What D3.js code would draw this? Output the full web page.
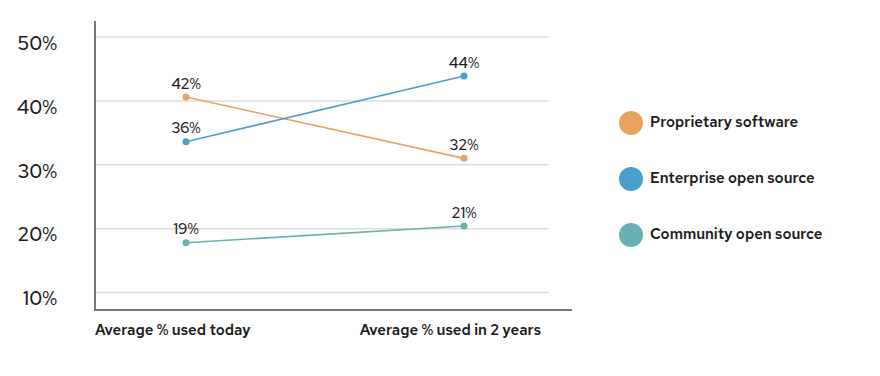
<!DOCTYPE html>
<html>
<head>
<meta charset="utf-8">
<script src="https://cdn.jsdelivr.net/npm/d3@7"></script>
<style>
  body { margin: 0; background: #fff; }
  text { font-family: "Red Hat Text", "Noto Sans", sans-serif; fill: #1c1c1c; }
</style>
</head>
<body>
<div id="chart"></div>
<script>
const periods = ['Average % used today', 'Average % used in 2 years'];
const seriesNames = ['Proprietary software', 'Enterprise open source', 'Community open source'];
const seriesColors = ['#eba15f', '#4a9fca', '#67b2b0'];
// where the dots actually sit in the picture, and what their labels print
const proprietaryPlot = [40.6, 31.0];
const enterprisePlot = [33.6, 43.9];
const communityPlot = [17.8, 20.4];
const proprietaryLabels = ['42%', '32%'];
const enterpriseLabels = ['36%', '44%'];
const communityLabels = ['19%', '21%'];
const yTicks = [10, 20, 30, 40, 50];

const WIDTH = 880, HEIGHT = 376;
const plotLeft = 95, plotBottom = 310, gridRight = 549, axisRight = 572;

const series = seriesNames.map((name, i) => ({
    name: name,
    color: seriesColors[i],
    plot: [proprietaryPlot, enterprisePlot, communityPlot][i],
    labels: [proprietaryLabels, enterpriseLabels, communityLabels][i]
}));

const svg = d3.select('#chart').append('svg')
    .attr('width', WIDTH)
    .attr('height', HEIGHT);

const x = d3.scalePoint()
    .domain(periods)
    .range([186, 464]);

const y = d3.scaleLinear()
    .domain([10, 50])
    .range([292.5, 37]);

// gridlines
svg.append('g')
    .selectAll('line')
    .data(yTicks)
    .join('line')
    .attr('x1', plotLeft)
    .attr('x2', gridRight)
    .attr('y1', d => y(d))
    .attr('y2', d => y(d))
    .attr('stroke', '#dcdcdc')
    .attr('stroke-width', 1.5);

// y tick labels sit a bit below their gridline in the original
svg.append('g')
    .selectAll('text')
    .data(yTicks)
    .join('text')
    .attr('x', 57)
    .attr('y', d => y(d) + 8)
    .attr('text-anchor', 'end')
    .attr('dominant-baseline', 'middle')
    .style('font-size', '19.5px')
    .style('font-weight', 500)
    .text(d => d + '%');

// axes
svg.append('line')
    .attr('x1', plotLeft).attr('x2', plotLeft)
    .attr('y1', 21).attr('y2', plotBottom)
    .attr('stroke', '#777').attr('stroke-width', 2);
svg.append('line')
    .attr('x1', plotLeft - 1).attr('x2', axisRight)
    .attr('y1', plotBottom).attr('y2', plotBottom)
    .attr('stroke', '#777').attr('stroke-width', 2);

// category labels
svg.append('g')
    .selectAll('text')
    .data(periods)
    .join('text')
    .attr('x', (d, i) => i == 0 ? plotLeft : 541)
    .attr('y', 335)
    .attr('text-anchor', (d, i) => i == 0 ? 'start' : 'end')
    .style('font-size', '15px')
    .style('font-weight', 600)
    .text(d => d);

const line = d3.line()
    .x((d, i) => x(periods[i]))
    .y(d => y(d));

const groups = svg.append('g')
    .selectAll('g')
    .data(series)
    .join('g');

groups.append('path')
    .attr('d', d => line(d.plot))
    .attr('fill', 'none')
    .attr('stroke', d => d.color)
    .attr('stroke-width', 1.6);

groups.selectAll('circle')
    .data(d => d.plot.map((v, i) => ({v: v, i: i, color: d.color, label: d.labels[i]})))
    .join('circle')
    .attr('cx', d => x(periods[d.i]))
    .attr('cy', d => y(d.v))
    .attr('r', 3.5)
    .attr('fill', d => d.color);

groups.selectAll('text')
    .data(d => d.plot.map((v, i) => ({v: v, i: i, label: d.labels[i]})))
    .join('text')
    .attr('x', d => x(periods[d.i]))
    .attr('y', d => y(d.v) - 12)
    .attr('text-anchor', 'middle')
    .attr('dominant-baseline', 'middle')
    .style('font-size', '15px')
    .style('font-weight', 500)
    .text(d => d.label);

// legend
const legend = svg.append('g')
    .selectAll('g')
    .data(series)
    .join('g')
    .attr('transform', (d, i) => `translate(631, ${123 + i * 56})`);

legend.append('circle')
    .attr('r', 12)
    .attr('fill', d => d.color);

legend.append('text')
    .attr('x', 19)
    .attr('dominant-baseline', 'middle')
    .style('font-size', '15px')
    .style('font-weight', 600)
    .text(d => d.name);
</script>
</body>
</html>
